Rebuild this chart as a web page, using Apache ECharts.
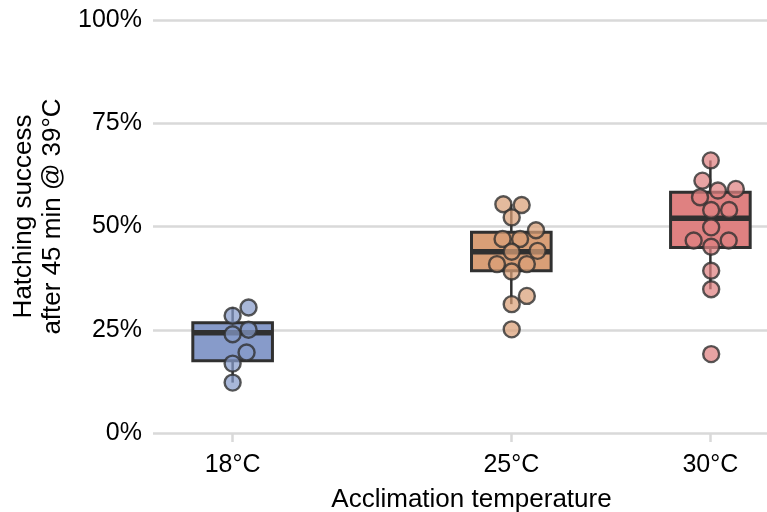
<!DOCTYPE html>
<html>
<head>
<meta charset="utf-8">
<script src="https://cdn.jsdelivr.net/npm/echarts@6/dist/echarts.min.js"></script>
<style>
  html, body { margin: 0; padding: 0; background: #fff; }
  #chart { width: 767px; height: 512px; }
</style>
</head>
<body>
<div id="chart"></div>
<script>
// acclimation temperatures (x positions of the groups)
const temps = [18, 25, 30];
const tickLabels = ['18°C', '25°C', '30°C'];

// box stats per group, in %
const whiskerLow = [12.2, 31.2, 34.8];
const q1 = [17.5, 39.3, 44.9];
const median = [24.3, 43.9, 52.0];
const q3 = [26.7, 48.6, 58.3];
const whiskerHigh = [30.4, 55.4, 66.0];

// individual points (beeswarm x, hatching success %)
const x18 = [18.4, 18.0, 18.4, 18.0, 18.35, 18.0, 18.0];
const y18 = [30.4, 28.4, 25.0, 23.9, 19.5, 16.8, 12.2];
const x25 = [24.8, 25.26, 25.01, 25.62, 24.78, 25.22, 25.01, 25.66, 24.64, 25.39, 25.01, 25.39, 25.01, 25.01];
const y25 = [55.4, 55.2, 52.2, 49.1, 47.0, 47.0, 43.9, 44.1, 40.9, 40.9, 39.1, 33.2, 31.2, 25.1];
const x30 = [30.01, 29.8, 30.19, 30.64, 29.74, 30.02, 30.47, 30.02, 29.58, 30.02, 30.46, 30.02, 30.02, 30.02];
const y30 = [66.0, 61.1, 58.7, 59.1, 57.1, 54.0, 54.0, 49.8, 46.6, 45.1, 46.6, 39.3, 34.8, 19.1];

const fills = ['#879bca', '#d99f77', '#df8181'];
const pointFills = ['rgba(135,155,202,0.9)', 'rgba(217,159,119,0.9)', 'rgba(223,129,129,0.9)'];
const dark = '#303030';
const gridGray = '#d9d9d9';
const boxHalf = 1.0;

const chart = echarts.init(document.getElementById('chart'), null, { renderer: 'canvas' });

const boxData = temps.map((t, i) => [t, whiskerLow[i], q1[i], median[i], q3[i], whiskerHigh[i]]);

function renderBox(params, api) {
  const x = api.value(0);
  const pLo = api.coord([x, api.value(1)]);
  const pQ1 = api.coord([x, api.value(2)]);
  const pMed = api.coord([x, api.value(3)]);
  const pQ3 = api.coord([x, api.value(4)]);
  const pHi = api.coord([x, api.value(5)]);
  const left = api.coord([x - boxHalf, 0])[0];
  const right = api.coord([x + boxHalf, 0])[0];
  const line = { stroke: dark, lineWidth: 2.5 };
  return {
    type: 'group',
    children: [
      { type: 'line', shape: { x1: pLo[0], y1: pLo[1], x2: pQ1[0], y2: pQ1[1] }, style: line },
      { type: 'line', shape: { x1: pQ3[0], y1: pQ3[1], x2: pHi[0], y2: pHi[1] }, style: line },
      {
        type: 'rect',
        shape: { x: left, y: pQ3[1], width: right - left, height: pQ1[1] - pQ3[1] },
        style: { fill: fills[params.dataIndex], stroke: dark, lineWidth: 3 }
      },
      { type: 'line', shape: { x1: left, y1: pMed[1], x2: right, y2: pMed[1] }, style: { stroke: dark, lineWidth: 5.5 } }
    ]
  };
}

function pts(xs, ys) {
  return xs.map((x, i) => [x, ys[i]]);
}

function pointSeries(data, i) {
  return {
    type: 'scatter',
    data: data,
    symbol: 'circle',
    symbolSize: 16,
    itemStyle: { color: pointFills[i], borderColor: dark, borderWidth: 2.4 },
    z: 3
  };
}

chart.setOption({
  backgroundColor: '#fff',
  animation: false,
  grid: { left: 153, right: -23, top: 20, bottom: 79, outerBoundsMode: 'none' },
  xAxis: {
    type: 'value',
    min: 16,
    max: 32,
    name: 'Acclimation temperature',
    nameLocation: 'middle',
    nameGap: 54,
    nameTextStyle: { fontSize: 26, color: '#000', fontFamily: 'Liberation Sans' },
    axisLine: { show: false },
    splitLine: { show: false },
    axisTick: {
      show: true,
      customValues: temps,
      length: 9,
      lineStyle: { color: gridGray, width: 2.5 }
    },
    axisLabel: {
      customValues: temps,
      formatter: v => tickLabels[temps.indexOf(v)],
      fontSize: 25,
      color: '#000',
      fontFamily: 'Liberation Sans',
      margin: 20
    }
  },
  yAxis: {
    type: 'value',
    min: 0,
    max: 100,
    interval: 25,
    name: 'Hatching success\nafter 45 min @ 39°C',
    nameLocation: 'middle',
    nameGap: 85,
    nameTextStyle: {
      fontSize: 26, lineHeight: 29, color: '#000', fontFamily: 'Liberation Sans',
      padding: [0, 0, 0, 20]
    },
    axisLine: { show: false },
    axisTick: { show: false },
    axisLabel: {
      formatter: '{value}%',
      fontSize: 25,
      color: '#000',
      fontFamily: 'Liberation Sans',
      margin: 11
    },
    splitLine: { show: true, lineStyle: { color: gridGray, width: 2.5 } }
  },
  series: [
    {
      type: 'custom',
      renderItem: renderBox,
      data: boxData,
      encode: { x: 0, y: [1, 2, 3, 4, 5] },
      z: 2
    },
    pointSeries(pts(x18, y18), 0),
    pointSeries(pts(x25, y25), 1),
    pointSeries(pts(x30, y30), 2)
  ]
});
</script>
</body>
</html>
